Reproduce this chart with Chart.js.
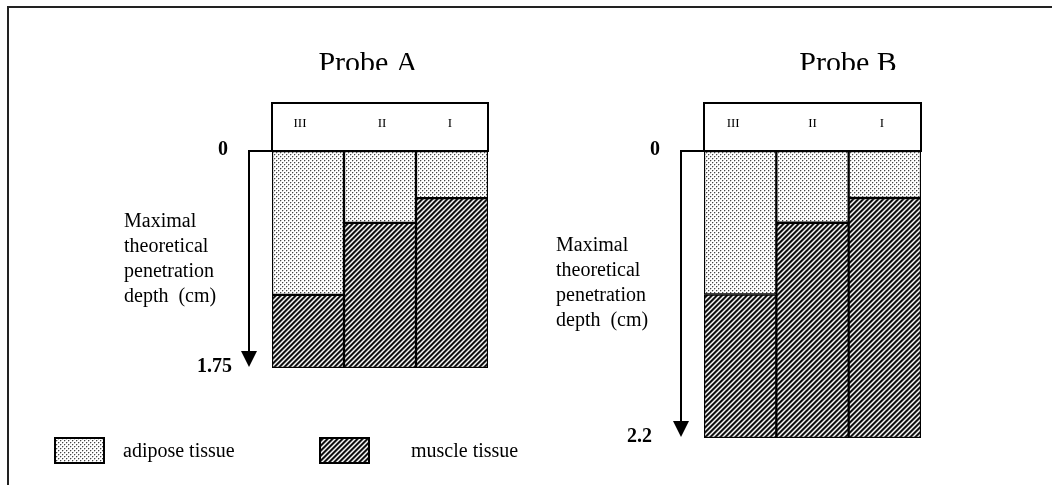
<!DOCTYPE html>
<html>
<head>
<meta charset="utf-8">
<script src="https://cdn.jsdelivr.net/npm/chart.js@4.4.1/dist/chart.umd.min.js"></script>
<style>
  html, body { margin: 0; padding: 0; background: #fff; }
  #wrap { position: relative; width: 1052px; height: 485px; overflow: hidden; }
  #frame { position: absolute; left: 7px; top: 6px; width: 1100px; height: 600px;
           border-left: 2px solid #222; border-top: 2px solid #222; }
  canvas { position: absolute; top: 0; }
  #probeA { left: 0; }
  #probeB { left: 526px; }
</style>
</head>
<body>
<div id="wrap">
  <div id="frame"></div>
  <canvas id="probeA" width="526" height="485"></canvas>
  <canvas id="probeB" width="526" height="485"></canvas>
</div>
<script>
// kolom (urutan seperti di gambar)
const categories = ['III', 'II', 'I'];

// Probe A, kedalaman (cm)
const adiposeA = [1.16, 0.58, 0.38];
const muscleA = [0.59, 1.17, 1.37];
const maxDepthA = 1.75;

// Probe B, kedalaman (cm)
const adiposeB = [1.10, 0.55, 0.36];
const muscleB = [1.10, 1.65, 1.84];
const maxDepthB = 2.2;

const depthLabel = ['Maximal', 'theoretical', 'penetration', 'depth  (cm)'];
const serif = '"Liberation Serif", "Times New Roman", serif';

// isi tile piksel dari fungsi nilai abu-abu
function tilePattern(w, h, shade) {
    const c = document.createElement('canvas');
    c.width = w; c.height = h;
    const g = c.getContext('2d');
    const img = g.createImageData(w, h);
    for (let y = 0; y < h; y++) {
        for (let x = 0; x < w; x++) {
            const i = (y * w + x) * 4;
            const v = shade(x, y);
            img.data[i] = v; img.data[i + 1] = v; img.data[i + 2] = v; img.data[i + 3] = 255;
        }
    }
    g.putImageData(img, 0, 0);
    return g.createPattern(c, 'repeat');
}

// pola titik (jaringan lemak)
const dotFill = tilePattern(4, 4, (x, y) => {
    if ((x === 0 && y === 0) || (x === 2 && y === 2)) return 70;
    if ((x === 1 && y === 0) || (x === 0 && y === 1) || (x === 3 && y === 2) || (x === 2 && y === 3)) return 200;
    return 255;
});

// pola garis miring (jaringan otot)
const hatchShades = [10, 25, 150, 250, 130];
const hatchFill = tilePattern(5, 5, (x, y) => hatchShades[(x + y) % 5]);

// Plugin untuk judul, kotak header, panah kedalaman, dan legenda
const probeDecor = {
    id: 'probeDecor',
    afterDraw(chart, args, opts) {
        const ctx = chart.ctx;
        const ca = chart.chartArea;
        const xs = chart.scales.x;
        const ys = chart.scales.y;
        ctx.save();

        // judul
        ctx.save();
        ctx.beginPath();
        ctx.rect(0, 0, chart.width, 70);
        ctx.clip();
        ctx.fillStyle = '#000';
        ctx.font = '30px ' + serif;
        ctx.textAlign = 'center';
        ctx.textBaseline = 'alphabetic';
        ctx.fillText(opts.title, opts.titleX, 72);
        ctx.restore();

        // kotak header dengan angka romawi
        ctx.strokeStyle = '#000';
        ctx.lineWidth = 2;
        ctx.strokeRect(ca.left, 103, ca.right - ca.left, ca.top - 103);
        ctx.fillStyle = '#000';
        ctx.font = '13px ' + serif;
        ctx.textAlign = 'center';
        ctx.textBaseline = 'middle';
        categories.forEach((c, i) => {
            ctx.fillText(c, xs.getPixelForValue(i) + opts.romanShift[i], 124);
        });

        // panah kedalaman
        const ax = ca.left - 23;
        const y0 = ys.getPixelForValue(0);
        const yEnd = ys.getPixelForValue(ys.max) - 1;
        ctx.lineWidth = 2;
        ctx.beginPath();
        ctx.moveTo(ca.left, y0);
        ctx.lineTo(ax, y0);
        ctx.lineTo(ax, yEnd - 14);
        ctx.stroke();
        ctx.beginPath();
        ctx.moveTo(ax - 8, yEnd - 16);
        ctx.lineTo(ax + 8, yEnd - 16);
        ctx.lineTo(ax, yEnd);
        ctx.closePath();
        ctx.fill();

        ctx.font = 'bold 20px ' + serif;
        ctx.textAlign = 'center';
        ctx.fillText('0', ax - 26, y0 - 1);
        ctx.textAlign = 'right';
        ctx.fillText(opts.maxLabel, ax - opts.maxLabelGap, yEnd);

        // keterangan sumbu
        ctx.font = '20px ' + serif;
        ctx.textAlign = 'left';
        depthLabel.forEach((t, i) => {
            ctx.fillText(t, opts.descX, opts.descY + i * 25);
        });

        // legenda
        if (opts.legend) {
            const items = [
                { fill: dotFill, text: 'adipose tissue', bx: 55, tx: 123 },
                { fill: hatchFill, text: 'muscle tissue', bx: 320, tx: 411 }
            ];
            items.forEach(it => {
                ctx.fillStyle = it.fill;
                ctx.fillRect(it.bx, 438, 49, 25);
                ctx.strokeStyle = '#000';
                ctx.lineWidth = 2;
                ctx.strokeRect(it.bx, 438, 49, 25);
                ctx.fillStyle = '#000';
                ctx.font = '20px ' + serif;
                ctx.textAlign = 'left';
                ctx.fillText(it.text, it.tx, 452);
            });
        }
        ctx.restore();
    }
};

function makeProbe(id, adipose, muscle, maxDepth, padding, decor) {
    const ctx = document.getElementById(id).getContext('2d');
    return new Chart(ctx, {
        type: 'bar',
        data: {
            labels: categories,
            datasets: [{
                label: 'adipose tissue',
                data: adipose,
                backgroundColor: dotFill,
                borderColor: '#000',
                borderWidth: 1.5,
                borderSkipped: false
            }, {
                label: 'muscle tissue',
                data: muscle,
                backgroundColor: hatchFill,
                borderColor: '#000',
                borderWidth: 1.5,
                borderSkipped: false
            }]
        },
        options: {
            responsive: false,
            animation: false,
            layout: { padding: padding },
            datasets: { bar: { categoryPercentage: 1, barPercentage: 1 } },
            scales: {
                x: { stacked: true, display: false },
                y: { stacked: true, display: false, reverse: true, min: 0, max: maxDepth }
            },
            plugins: {
                legend: { display: false },
                tooltip: { enabled: false },
                probeDecor: decor
            }
        },
        plugins: [probeDecor]
    });
}

makeProbe('probeA', adiposeA, muscleA, maxDepthA,
    { left: 272, right: 38, top: 151, bottom: 117 },
    { title: 'Probe A', titleX: 368, maxLabel: '1.75', maxLabelGap: 17,
      descX: 124, descY: 222, romanShift: [-8, 2, -2], legend: true });

makeProbe('probeB', adiposeB, muscleB, maxDepthB,
    { left: 178, right: 131, top: 151, bottom: 47 },
    { title: 'Probe B', titleX: 322, maxLabel: '2.2', maxLabelGap: 29,
      descX: 30, descY: 246, romanShift: [-7, 0, -3], legend: false });
</script>
</body>
</html>
